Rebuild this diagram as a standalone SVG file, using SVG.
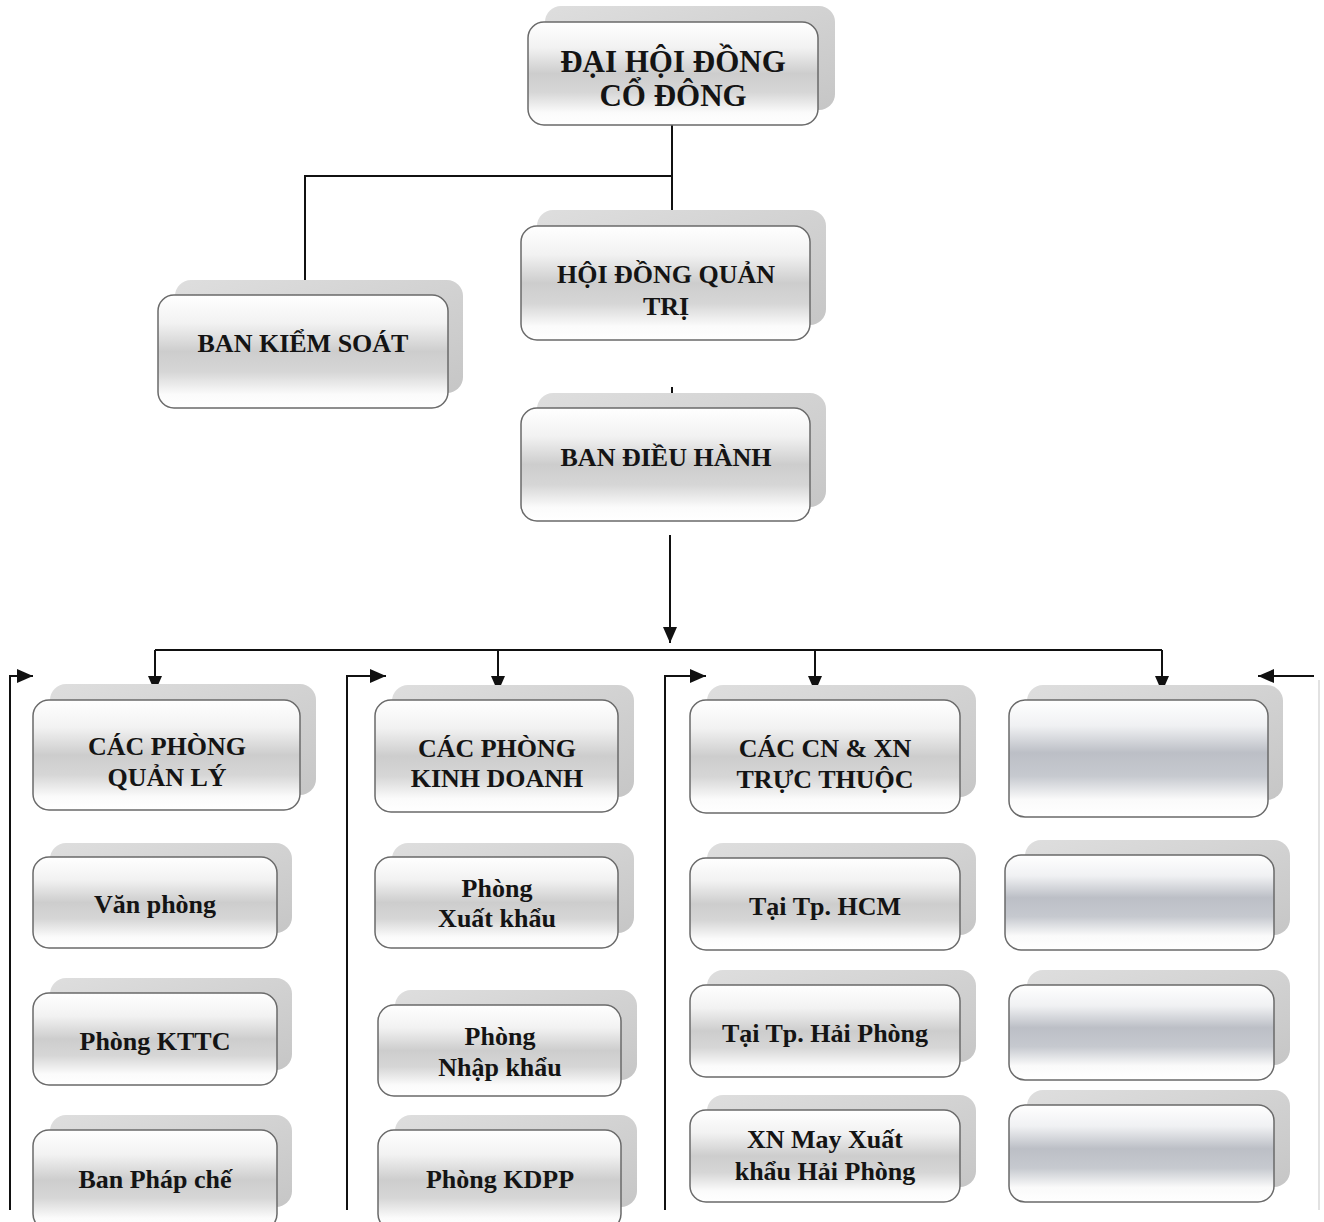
<svg xmlns="http://www.w3.org/2000/svg" width="1324" height="1222" viewBox="0 0 1324 1222">
<defs>
<linearGradient id="boxg" x1="0" y1="0" x2="0" y2="1">
<stop offset="0" stop-color="#ffffff"/>
<stop offset="0.25" stop-color="#f2f2f2"/>
<stop offset="0.5" stop-color="#cdcdcd"/>
<stop offset="0.68" stop-color="#d6d6d6"/>
<stop offset="0.88" stop-color="#fbfbfb"/>
<stop offset="1" stop-color="#ffffff"/>
</linearGradient>
<linearGradient id="emptyg" x1="0" y1="0" x2="0" y2="1">
<stop offset="0" stop-color="#ffffff"/>
<stop offset="0.22" stop-color="#f0f1f3"/>
<stop offset="0.45" stop-color="#bcbfc6"/>
<stop offset="0.65" stop-color="#c6c9cf"/>
<stop offset="0.85" stop-color="#fafafa"/>
<stop offset="1" stop-color="#ffffff"/>
</linearGradient>
<linearGradient id="shg" x1="0" y1="0" x2="1" y2="1">
<stop offset="0" stop-color="#dedede"/>
<stop offset="1" stop-color="#c6c6c6"/>
</linearGradient>
<marker id="ah" viewBox="0 0 16 14" refX="16" refY="7" markerWidth="16" markerHeight="14" markerUnits="userSpaceOnUse" orient="auto">
<path d="M0,0 L16,7 L0,14 Z" fill="#111"/>
</marker>
</defs>
<style>
.sh{fill:url(#shg);}
.bx{fill:url(#boxg);stroke:#6a6a6a;stroke-width:1.5;}
.ebx{fill:url(#emptyg);stroke:#6a6a6a;stroke-width:1.5;}
.t{font-family:"Liberation Serif","Times New Roman",serif;font-weight:bold;font-size:26px;fill:#141414;text-anchor:middle;}
.tt{font-size:31px;}
.ln{stroke:#111;stroke-width:2;fill:none;}
.ar{stroke:#111;stroke-width:2;fill:none;marker-end:url(#ah);}
</style>
<rect width="1324" height="1222" fill="#ffffff"/>

<g id="connectors">
<path class="ln" d="M672,125 V224 M672,176 H305 V295"/>
<path class="ln" d="M666,222 H678"/>
<path class="ln" d="M672,387 V409"/>
<path class="ar" d="M670,535 V643"/>
<path class="ln" d="M155,650 H1162"/>
<path class="ar" d="M155,650 V692"/>
<path class="ar" d="M498,650 V692"/>
<path class="ar" d="M815,650 V692"/>
<path class="ar" d="M1162,650 V692"/>
<path class="ar" d="M10,1210 V676 H33"/>
<path class="ar" d="M347,1210 V676 H386"/>
<path class="ar" d="M665,1210 V676 H706"/>
<path class="ar" d="M1314,676 H1258"/>
<path d="M1319,680 V1210" stroke="#d8d8d8" stroke-width="1.5"/>
</g>

<g id="dai-hoi-dong-co-dong">
<rect class="sh" x="545" y="6" width="290" height="104" rx="16"/>
<rect class="bx" x="528" y="22" width="290" height="103" rx="16"/>
<text class="t tt" x="673" y="72">ĐẠI HỘI ĐỒNG</text>
<text class="t tt" x="673" y="106">CỔ ĐÔNG</text>
</g>

<g id="hoi-dong-quan-tri">
<rect class="sh" x="537" y="210" width="289" height="115" rx="16"/>
<rect class="bx" x="521" y="226" width="289" height="114" rx="16"/>
<text class="t" x="666" y="283">HỘI ĐỒNG QUẢN</text>
<text class="t" x="666" y="315">TRỊ</text>
</g>

<g id="ban-kiem-soat">
<rect class="sh" x="175" y="280" width="288" height="113" rx="16"/>
<rect class="bx" x="158" y="295" width="290" height="113" rx="16"/>
<text class="t" x="303" y="352">BAN KIỂM SOÁT</text>
</g>

<g id="ban-dieu-hanh">
<rect class="sh" x="537" y="393" width="289" height="114" rx="16"/>
<rect class="bx" x="521" y="408" width="289" height="113" rx="16"/>
<text class="t" x="666" y="466">BAN ĐIỀU HÀNH</text>
</g>

<g id="cac-phong-quan-ly">
<rect class="sh" x="50" y="684" width="266" height="111" rx="16"/>
<rect class="bx" x="33" y="700" width="267" height="110" rx="16"/>
<text class="t" x="167" y="755">CÁC PHÒNG</text>
<text class="t" x="167" y="786">QUẢN LÝ</text>
</g>
<g id="van-phong">
<rect class="sh" x="50" y="843" width="242" height="90" rx="16"/>
<rect class="bx" x="33" y="857" width="244" height="91" rx="16"/>
<text class="t" x="155" y="913">Văn phòng</text>
</g>
<g id="phong-kttc">
<rect class="sh" x="50" y="978" width="242" height="92" rx="16"/>
<rect class="bx" x="33" y="993" width="244" height="92" rx="16"/>
<text class="t" x="155" y="1050">Phòng KTTC</text>
</g>
<g id="ban-phap-che">
<rect class="sh" x="50" y="1115" width="242" height="92" rx="16"/>
<rect class="bx" x="33" y="1130" width="244" height="100" rx="16"/>
<text class="t" x="155" y="1188">Ban Pháp chế</text>
</g>

<g id="cac-phong-kinh-doanh">
<rect class="sh" x="392" y="685" width="242" height="112" rx="16"/>
<rect class="bx" x="375" y="700" width="243" height="112" rx="16"/>
<text class="t" x="497" y="757">CÁC PHÒNG</text>
<text class="t" x="497" y="787">KINH DOANH</text>
</g>
<g id="phong-xuat-khau">
<rect class="sh" x="392" y="843" width="242" height="90" rx="16"/>
<rect class="bx" x="375" y="857" width="243" height="91" rx="16"/>
<text class="t" x="497" y="897">Phòng</text>
<text class="t" x="497" y="927">Xuất khẩu</text>
</g>
<g id="phong-nhap-khau">
<rect class="sh" x="395" y="990" width="242" height="90" rx="16"/>
<rect class="bx" x="378" y="1005" width="243" height="91" rx="16"/>
<text class="t" x="500" y="1045">Phòng</text>
<text class="t" x="500" y="1076">Nhập khẩu</text>
</g>
<g id="phong-kdpp">
<rect class="sh" x="395" y="1115" width="242" height="92" rx="16"/>
<rect class="bx" x="378" y="1130" width="243" height="100" rx="16"/>
<text class="t" x="500" y="1188">Phòng KDPP</text>
</g>

<g id="cac-cn-xn">
<rect class="sh" x="707" y="685" width="269" height="112" rx="16"/>
<rect class="bx" x="690" y="700" width="270" height="113" rx="16"/>
<text class="t" x="825" y="757">CÁC CN &amp; XN</text>
<text class="t" x="825" y="788">TRỰC THUỘC</text>
</g>
<g id="tai-tp-hcm">
<rect class="sh" x="707" y="843" width="269" height="92" rx="16"/>
<rect class="bx" x="690" y="858" width="270" height="92" rx="16"/>
<text class="t" x="825" y="915">Tại Tp. HCM</text>
</g>
<g id="tai-tp-hai-phong">
<rect class="sh" x="707" y="970" width="269" height="92" rx="16"/>
<rect class="bx" x="690" y="985" width="270" height="92" rx="16"/>
<text class="t" x="825" y="1042">Tại Tp. Hải Phòng</text>
</g>
<g id="xn-may-xuat-khau">
<rect class="sh" x="707" y="1095" width="269" height="92" rx="16"/>
<rect class="bx" x="690" y="1110" width="270" height="92" rx="16"/>
<text class="t" x="825" y="1148">XN May Xuất</text>
<text class="t" x="825" y="1180">khẩu Hải Phòng</text>
</g>

<g id="empty-1">
<rect class="sh" x="1027" y="685" width="256" height="115" rx="16"/>
<rect class="ebx" x="1009" y="700" width="259" height="117" rx="16"/>
</g>
<g id="empty-2">
<rect class="sh" x="1025" y="840" width="265" height="95" rx="16"/>
<rect class="ebx" x="1005" y="855" width="269" height="95" rx="16"/>
</g>
<g id="empty-3">
<rect class="sh" x="1027" y="970" width="263" height="95" rx="16"/>
<rect class="ebx" x="1009" y="985" width="265" height="95" rx="16"/>
</g>
<g id="empty-4">
<rect class="sh" x="1027" y="1090" width="263" height="97" rx="16"/>
<rect class="ebx" x="1009" y="1105" width="265" height="97" rx="16"/>
</g>
</svg>
